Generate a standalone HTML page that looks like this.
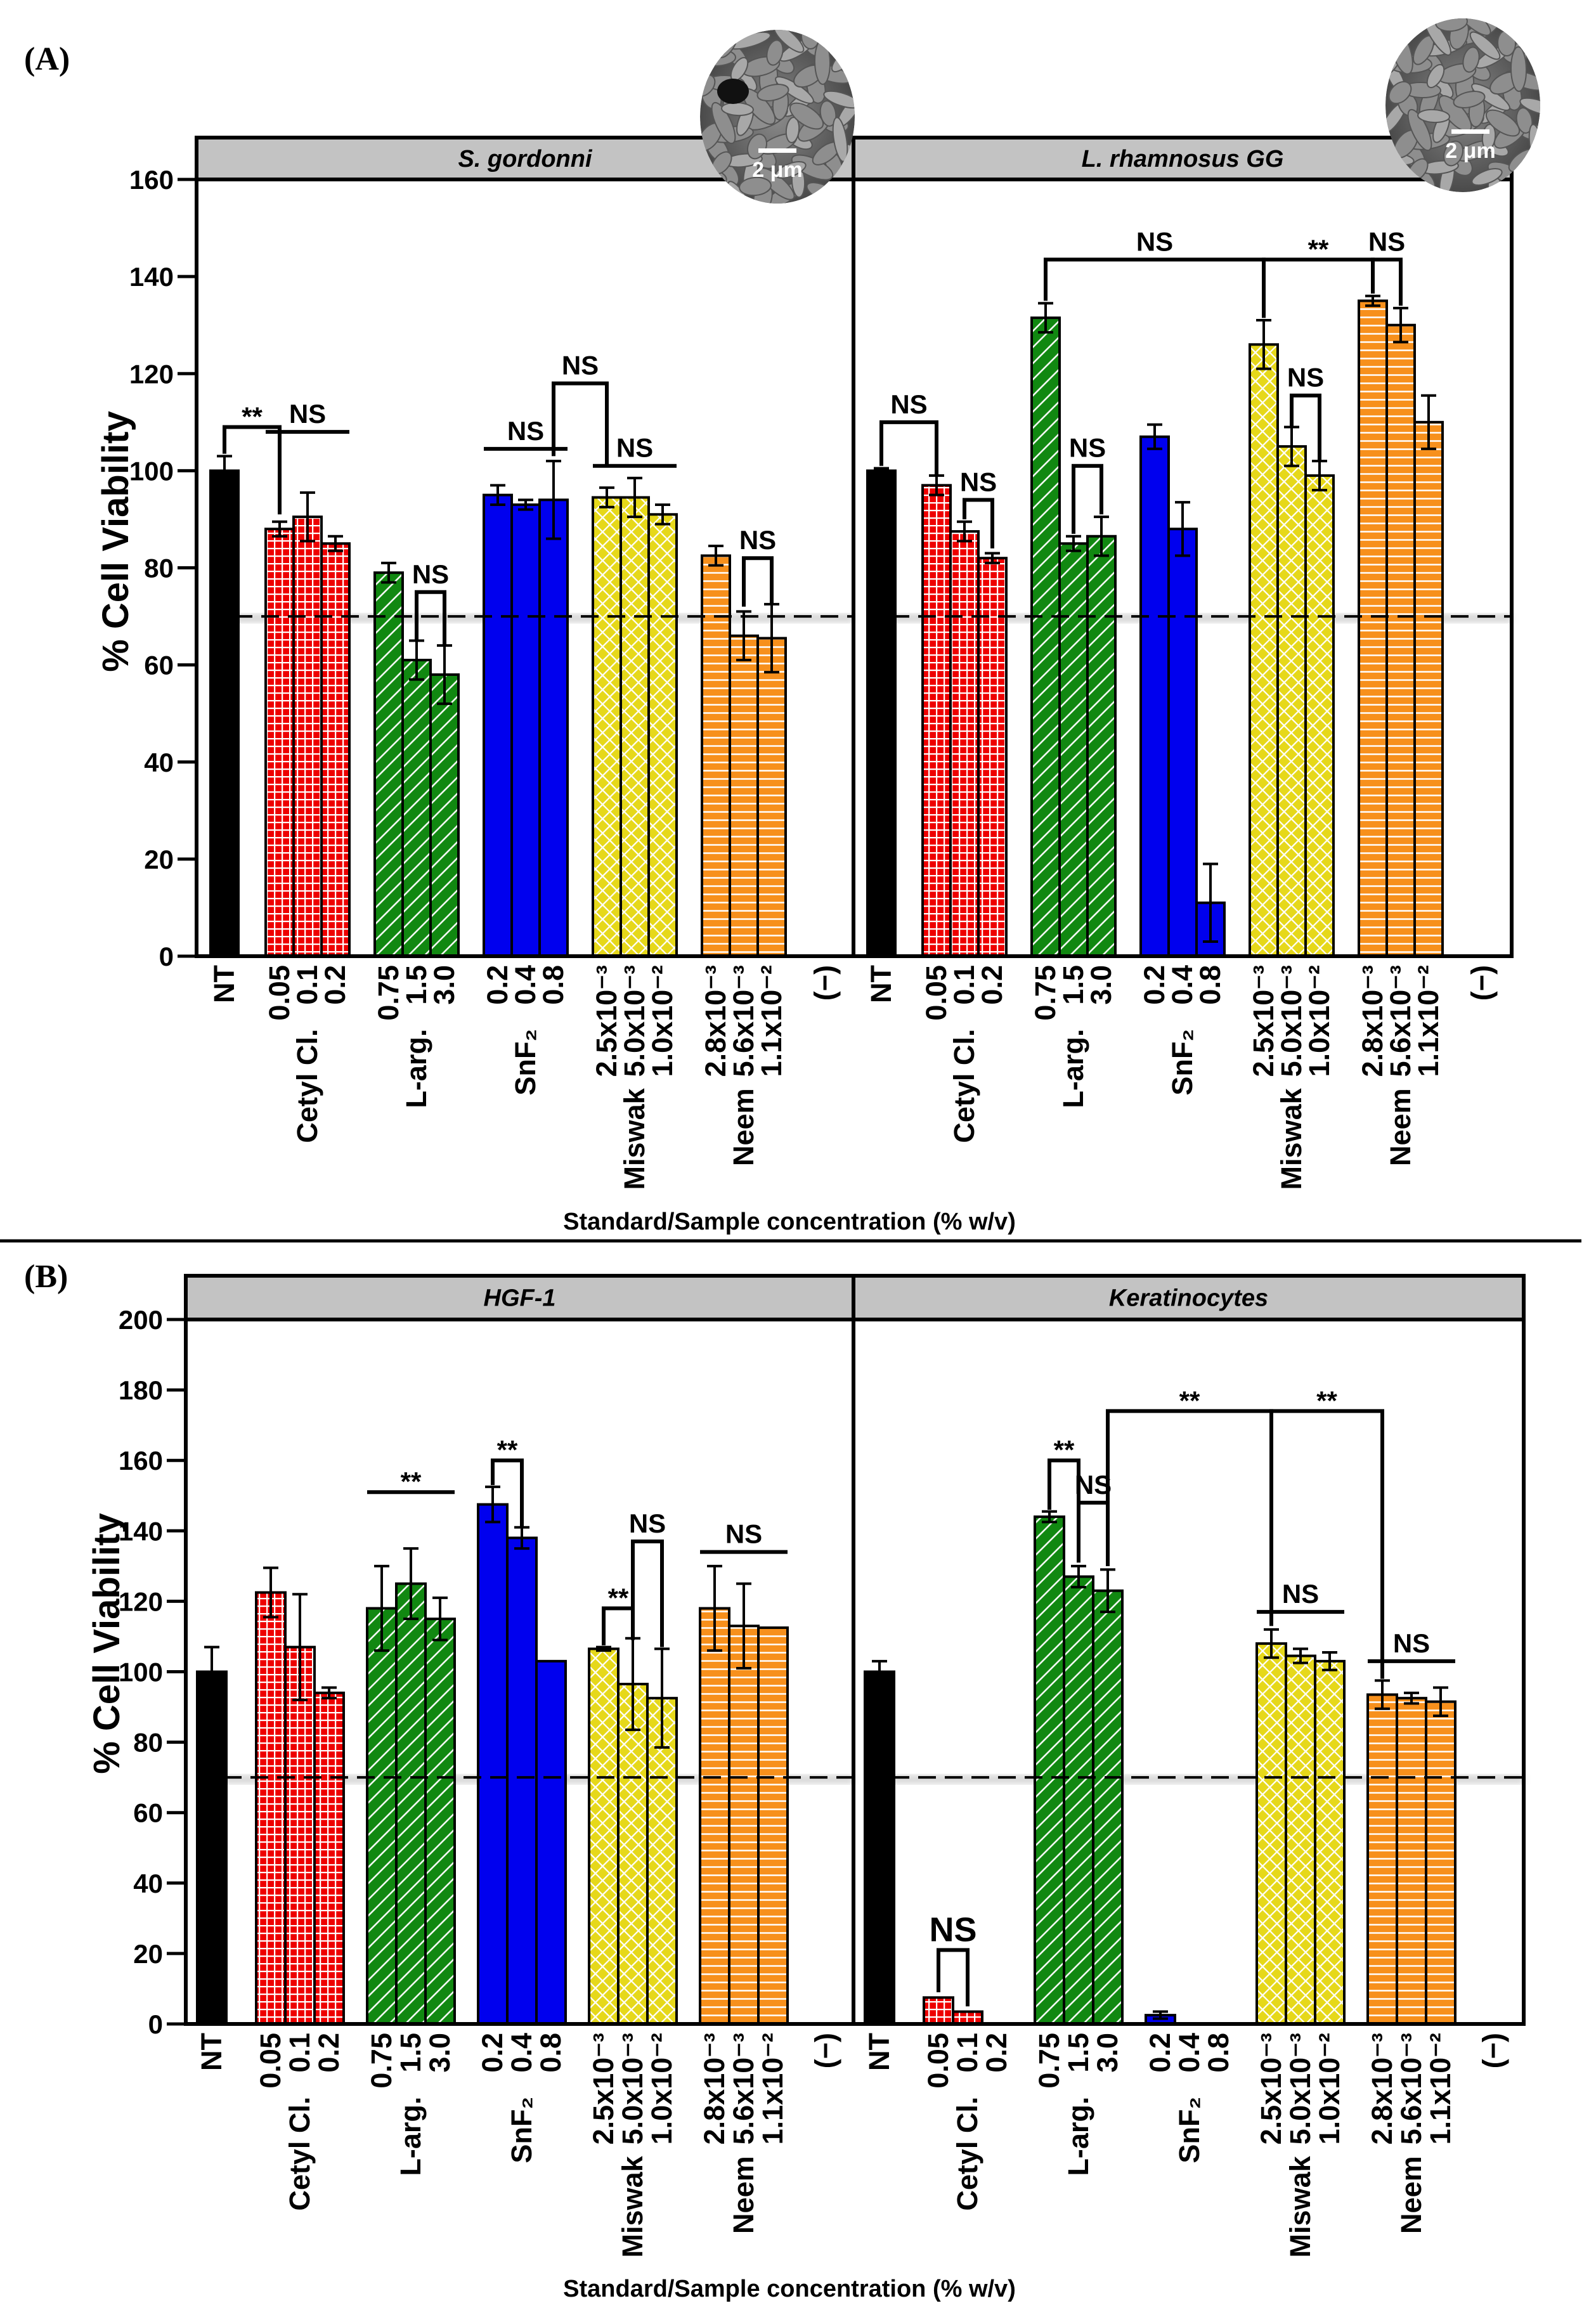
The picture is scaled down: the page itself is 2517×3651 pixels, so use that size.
<!DOCTYPE html>
<html><head><meta charset="utf-8"><style>
html,body{margin:0;padding:0;background:#fff}
svg{display:block}
text{font-family:"Liberation Sans",Arial,sans-serif;font-weight:bold}
</style></head><body>
<svg id="fig" width="2517" height="3651" viewBox="0 0 2517 3651" xmlns="http://www.w3.org/2000/svg">
<defs>
<pattern id="pRed" patternUnits="userSpaceOnUse" width="12" height="12"><rect width="12" height="12" fill="#ee0000"/><path d="M0 1H12M1 0V12" stroke="#fff" stroke-width="2.5"/></pattern>
<pattern id="pGreen" patternUnits="userSpaceOnUse" width="18" height="18" patternTransform="rotate(-45)"><rect width="18" height="18" fill="#118811"/><path d="M0 9H18" stroke="#fff" stroke-width="2.5"/></pattern>
<pattern id="pBlue" patternUnits="userSpaceOnUse" width="10" height="10"><rect width="10" height="10" fill="#0000ee"/></pattern>
<pattern id="pYellow" patternUnits="userSpaceOnUse" width="16" height="16" patternTransform="rotate(45)"><rect width="16" height="16" fill="#e6d81a"/><path d="M0 1H16M1 0V16" stroke="#fff" stroke-width="2.5"/></pattern>
<pattern id="pOrange" patternUnits="userSpaceOnUse" width="13" height="13"><rect width="13" height="13" fill="#f7901c"/><path d="M0 6.5H13" stroke="#fff" stroke-width="2.5"/></pattern>
<pattern id="pBlack" patternUnits="userSpaceOnUse" width="10" height="10"><rect width="10" height="10" fill="#000"/></pattern>
<filter id="blur"><feGaussianBlur stdDeviation="5"/></filter>
<radialGradient id="semG"><stop offset="0" stop-color="#8a8a8a"/><stop offset="1" stop-color="#4a4a4a"/></radialGradient>
</defs>
</svg>
<script>
// ---- data ----
const categories = ['NT','0.05','0.1','0.2','0.75','1.5','3.0','0.2','0.4','0.8','2.5x10⁻³','5.0x10⁻³','1.0x10⁻²','2.8x10⁻³','5.6x10⁻³','1.1x10⁻²','(−)'];
const groupNames = ['','','Cetyl Cl.','','','L-arg.','','','SnF₂','','','Miswak','','','Neem','',''];
const yTicksA = [0,20,40,60,80,100,120,140,160];
const yTicksB = [0,20,40,60,80,100,120,140,160,180,200];
const sgVals  = [100,88,90.5,85,79,61,58,95,93,94,94.5,94.5,91,82.5,66,65.5,0];
const sgErrs  = [3,1.5,5,1.5,2,4,6,2,1,8,2,4,2,2,5,7,0];
const lggVals = [100,97,87.5,82,131.5,85,86.5,107,88,11,126,105,99,135,130,110,0];
const lggErrs = [0.5,2,2,1,3,1.5,4,2.5,5.5,8,5,4,3,1,3.5,5.5,0];
const hgfVals = [100,122.5,107,94,118,125,115,147.5,138,103,106.5,96.5,92.5,118,113,112.5,0];
const hgfErrs = [7,7,15,1.5,12,10,6,5,3,0,0.5,13,14,12,12,0,0];
const kerVals = [100,7.5,3.5,0,144,127,123,2.5,0,0,108,104.5,103,93.5,92.5,91.5,0];
const kerErrs = [3,0,0,0,1.5,3,6,1,0,0,4,2,2.5,4,1.5,4,0];
const threshold = 70;
// annotations: ['b', barA, barB, topValue, legAValue, legBValue, label] / ['l', barA, barB, value, label]
const sgAnn = [['b',0,1,109,103.5,91,'**'],['l',1,3,108,'NS'],['b',5,6,75,65,64,'NS'],['l',7,9,104.5,'NS'],['b',9,10,118,103,101,'NS'],['l',10,12,101,'NS'],['b',14,15,82,72,72.5,'NS']];
const lggAnn = [['b',0,1,110,101,99,'NS'],['b',2,3,94,90,84,'NS'],['b',5,6,101,87,91,'NS'],['b',4,10,143.5,135,131.5,'NS'],['b',10,13,143.5,131.5,136.5,'**'],['b',13,14,143.5,136.5,134,'NS'],['b',11,12,115.5,109,102,'NS']];
const hgfAnn = [['l',4,6,151,'**'],['b',7,8,160,153,141,'**'],['b',10,11,118,107.5,109,'**'],['b',11,12,137,110,107,'NS'],['l',13,15,134,'NS']];
const kerAnn = [['b',1,2,21,9,5,'NS'],['b',4,5,160,146,131,'**'],['b',5,6,148,131,130,'NS'],['b',6,10,174,130,113,'**'],['b',10,13,174,113,98,'**'],['l',10,12,117,'NS'],['l',13,15,103,'NS']];

const fills = ['pBlack','pRed','pRed','pRed','pGreen','pGreen','pGreen','pBlue','pBlue','pBlue','pYellow','pYellow','pYellow','pOrange','pOrange','pOrange','pBlack'];
const NS = 'http://www.w3.org/2000/svg';
const svg = document.getElementById('fig');
function mk(tag, attrs, parent){const e=document.createElementNS(NS,tag);for(const k in attrs)e.setAttribute(k,attrs[k]);(parent||svg).appendChild(e);return e;}

const panels = [
 {id:'s-gordonni',title:'S. gordonni',vals:sgVals,errs:sgErrs,ann:sgAnn,x0:310,x1:1346,top:217,hdr:283,y0:1508,ymax:160,ticks:yTicksA,ntOff:22,off:109,step:172,w:44,yaxis:true},
 {id:'l-rhamnosus',title:'L. rhamnosus GG',vals:lggVals,errs:lggErrs,ann:lggAnn,x0:1346,x1:2384,top:217,hdr:283,y0:1508,ymax:160,ticks:yTicksA,ntOff:22,off:109,step:172,w:44,yaxis:false},
 {id:'hgf-1',title:'HGF-1',vals:hgfVals,errs:hgfErrs,ann:hgfAnn,x0:293,x1:1346,top:2012,hdr:2081,y0:3192,ymax:200,ticks:yTicksB,ntOff:18,off:111,step:175,w:46,yaxis:true},
 {id:'keratinocytes',title:'Keratinocytes',vals:kerVals,errs:kerErrs,ann:kerAnn,x0:1346,x1:2403,top:2012,hdr:2081,y0:3192,ymax:200,ticks:yTicksB,ntOff:18,off:111,step:175,w:46,yaxis:false}
];

panels.forEach((p,pi)=>{
  const g = mk('g',{});
  
  
  const yS = v => p.y0 - v/p.ymax*(p.y0-p.hdr);
  const xL = i => { if(i===0) return p.x0+p.ntOff; if(i===16) return p.x0+p.off+5*p.step; const gi=Math.floor((i-1)/3),k=(i-1)%3; return p.x0+p.off+gi*p.step+k*p.w; };
  const xC = i => xL(i)+p.w/2;
  const hd = mk('rect',{x:p.x0,y:p.top,width:p.x1-p.x0,height:p.hdr-p.top,fill:'#c3c3c3',stroke:'#000','stroke-width':6},g);
  
  
  const ht = mk('text',{x:(p.x0+p.x1)/2,y:(p.top+p.hdr)/2+13,'text-anchor':'middle','font-size':38,'font-style':'italic'},g);
  ht.textContent = p.title;
  
  
  const ty = yS(threshold);
  mk('rect',{x:p.x0+60,y:ty-4,width:p.x1-p.x0-60,height:14,fill:'#bbb',filter:'url(#blur)',opacity:0.6},g);
  p.vals.forEach((v,i)=>{
    if(v<=0) return;
    const r = mk('rect',{x:xL(i),y:yS(v),width:p.w,height:p.y0-yS(v),fill:'url(#'+fills[i]+')',stroke:'#000','stroke-width':4},g);
    
    
    const e = p.errs[i];
    if(e>0){
      const eb = mk('path',{d:`M${xC(i)} ${yS(v+e)}V${yS(v-e)}M${xC(i)-12} ${yS(v+e)}H${xC(i)+12}M${xC(i)-12} ${yS(v-e)}H${xC(i)+12}`,stroke:'#000','stroke-width':4,fill:'none'},g);
      
      
    }
  });
  const dl = mk('line',{x1:p.x0+60,x2:p.x1,y1:ty,y2:ty,stroke:'#000','stroke-width':4,'stroke-dasharray':'28 14'},g);
  
  
  const fr = mk('rect',{x:p.x0,y:p.hdr,width:p.x1-p.x0,height:p.y0-p.hdr,fill:'none',stroke:'#000','stroke-width':6},g);
  
  
  if(p.yaxis){
    p.ticks.forEach(t=>{
      mk('line',{x1:p.x0-30,x2:p.x0,y1:yS(t),y2:yS(t),stroke:'#000','stroke-width':5},g);
      const tl = mk('text',{x:p.x0-36,y:yS(t)+15,'text-anchor':'end','font-size':42},g);
      tl.textContent = t;
      
      
    });
    const cy=(pi===0)?854:2592, cx=(pi===0)?182:168;
    const yt = mk('text',{x:cx,y:cy,'text-anchor':'middle','font-size':58,transform:`rotate(-90 ${cx} ${cy})`,dy:20},g);
    yt.textContent = '% Cell Viability';
    
    
  }
  categories.forEach((c,i)=>{
    const x = xC(i)+15, y = p.y0+14;
    const t = mk('text',{x:x,y:y,'text-anchor':'end','font-size':45,transform:`rotate(-90 ${x} ${y})`},g);
    t.textContent = c;
    
    
    if(groupNames[i]){
      const len = t.getComputedTextLength();
      const y2 = y + len + (len>100?18:38);
      const n = mk('text',{x:x,y:y2,'text-anchor':'end','font-size':45,transform:`rotate(-90 ${x} ${y2})`},g);
      n.textContent = groupNames[i];
      
      
    }
  });
  p.ann.forEach(a=>{
    let d, tx, ty2, fs=42;
    if(a[0]==='b'){
      const xa=xC(a[1]), xb=xC(a[2]), yt2=yS(a[3]);
      d=`M${xa} ${yS(a[4])}V${yt2}H${xb}V${yS(a[5])}`; tx=(xa+xb)/2; ty2=yt2-14;
      if(a[3]<40) fs=54;
    } else {
      const xa=xL(a[1]), xb=xL(a[2])+p.w, yl=yS(a[3]);
      d=`M${xa} ${yl}H${xb}`; tx=(xa+xb)/2; ty2=yl-14;
    }
    const br = mk('path',{d:d,fill:'none',stroke:'#000','stroke-width':6},g);
    
    
    const lbl = a[0]==='b'?a[6]:a[4];
    const lt = mk('text',{x:tx,y:lbl==='**'?ty2+12:ty2,'text-anchor':'middle','font-size':fs},g);
    lt.textContent = lbl;
    
    
  });
});

[[1925,'x-axis-title-a'],[3608,'x-axis-title-b']].forEach(o=>{
  const t = mk('text',{x:1245,y:o[0]+14,'text-anchor':'middle','font-size':38});
  t.textContent = 'Standard/Sample concentration (% w/v)';
  
  
});
const sep = mk('line',{x1:0,x2:2494,y1:1957,y2:1957,stroke:'#000','stroke-width':5});


[['(A)',110,'panel-label-a'],['(B)',2030,'panel-label-b']].forEach(o=>{
  const t = mk('text',{x:38,y:o[1],'font-size':52,style:'font-family:"Liberation Serif",serif;font-weight:bold'});
  t.textContent = o[0];
  
  
});
[[1226,184,'sem-inset-s-gordonni'],[2307,166,'sem-inset-lgg']].forEach((o,k)=>{
  const g = mk('g',{});
  
  
  const cid='clip'+k;
  const cp = mk('clipPath',{id:cid},g);
  mk('ellipse',{cx:o[0],cy:o[1],rx:122,ry:137},cp);
  const gg = mk('g',{'clip-path':`url(#${cid})`},g);
  mk('ellipse',{cx:o[0],cy:o[1],rx:122,ry:137,fill:'url(#semG)'},gg);
  for(let j=0;j<70;j++){
    const ax = o[0]-120+((j*53+k*17)%240), ay=o[1]-135+((j*37+k*29)%270);
    mk('ellipse',{cx:ax,cy:ay,rx:20+(j%4)*5,ry:10+(j%3)*2,fill:j%3?'#8e8e8e':'#a8a8a8',stroke:'#555','stroke-width':2,transform:`rotate(${(j*47)%180} ${ax} ${ay})`},gg);
  }
  if(k===0) mk('ellipse',{cx:o[0]-70,cy:o[1]-40,rx:25,ry:20,fill:'#111'},gg);
  mk('rect',{x:o[0]+(k?-18:-30),y:o[1]+50-(k?12:0),width:60,height:7,fill:'#fff'},g);
  const t = mk('text',{x:o[0]+(k?12:0),y:o[1]+95-(k?12:0),'text-anchor':'middle','font-size':34,fill:'#fff'},g);
  t.textContent = '2 μm';
});
</script>
</body></html>
